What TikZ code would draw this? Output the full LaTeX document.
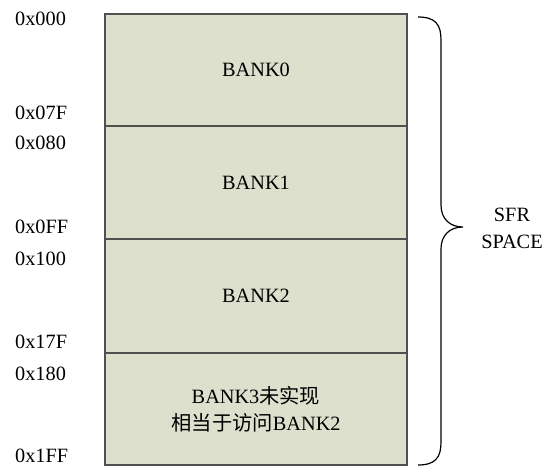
\documentclass[tikz,border=0pt]{standalone}
\usepackage{fontspec}
\setmainfont{Liberation Serif}
\newfontfamily\cjk{Noto Sans CJK SC}
\definecolor{bankfill}{RGB}{221,224,204}
\definecolor{bankline}{RGB}{80,80,80}
\begin{document}
\begin{tikzpicture}[x=1pt,y=-1pt,
  bank/.style={draw=bankline, fill=bankfill, line width=1.2pt, minimum width=302pt, inner sep=0pt, anchor=center, align=center, font=\fontsize{20.3}{27}\selectfont},
  addr/.style={anchor=west, inner sep=0pt, font=\fontsize{20.3}{24}\selectfont},
  brace/.style={draw=black, line width=1.2pt}]
\useasboundingbox (0,0) rectangle (550,466);
\node[bank, minimum height=112pt] (b0) at (256,70) {BANK0};
\node[bank, minimum height=113pt] (b1) at (256,182.5) {BANK1};
\node[bank, minimum height=114pt] (b2) at (256,296) {BANK2};
\node[bank, minimum height=112pt] (b3) at (256,409) {BANK3{\cjk 未实现}\\{\cjk 相当于访问}BANK2};
\node[addr] (a0) at (15,19) {0x000};
\node[addr] (a1) at (15,113) {0x07F};
\node[addr] (a2) at (15,143) {0x080};
\node[addr] (a3) at (15,227) {0x0FF};
\node[addr] (a4) at (15,259) {0x100};
\node[addr] (a5) at (15,342) {0x17F};
\node[addr] (a6) at (15,374) {0x180};
\node[addr] (a7) at (15,456) {0x1FF};
\coordinate (bt) at (418,17);
\coordinate (tip) at (463,227);
\coordinate (bb) at (418,465);
\draw[brace] (bt) .. controls (436,17) and (441,25) .. (441,40) -- (441,205) .. controls (441,219) and (450,227) .. (tip) .. controls (450,227) and (441,235) .. (441,249) -- (441,442) .. controls (441,457) and (436,465) .. (bb);
\node[align=center, font=\fontsize{20.3}{27}\selectfont] (sfr) at (512,228) {SFR\\SPACE};
\end{tikzpicture}
\end{document}
